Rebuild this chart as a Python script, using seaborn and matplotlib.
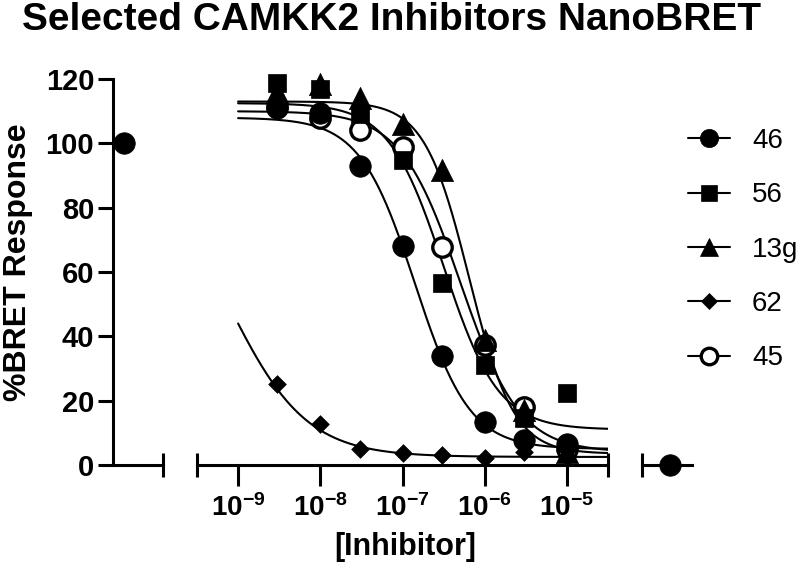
"""Selected CAMKK2 inhibitors NanoBRET dose-response plot."""

import matplotlib

matplotlib.use("Agg")
import matplotlib.pyplot as plt
import numpy as np
import seaborn as sns
from matplotlib.lines import Line2D

# --- data --------------------------------------------------------------
compounds = ["46", "56", "13g", "62", "45"]
concentrations = [3e-9, 1e-8, 3e-8, 1e-7, 3e-7, 1e-6, 3e-6, 1e-5]
response_46 = [111, 109.5, 93, 68, 34, 13.4, 7.8, 6.5]
response_56 = [118.7, 117, 109, 94.8, 56.6, 31, 14.6, 22.4]
response_13g = [116, 118.5, 114, 106, 91.7, 39, 17, 4]
response_62 = [25.2, 12.7, 5, 3.7, 3.1, 2.2, 3.9, 2.6]
response_45 = [111.3, 108, 104, 99, 67.8, 37.3, 18, 5]
control_no_inhibitor = 100
control_full_inhibition = 0

# four-parameter logistic fits (top, bottom, logIC50, hill slope)
fit_top = [108, 112.5, 113, 100, 110]
fit_bottom = [5, 11, 3.5, 2.5, 4]
fit_log_ic50 = [-6.85, -6.5, -6.19, -9.145, -6.3]
fit_hill = [1.3, 1.3, 1.6, 0.9, 1.2]
curve_log_range = (-9, -4.5)

x_ticks = [1e-9, 1e-8, 1e-7, 1e-6, 1e-5]
x_tick_labels = [r"$\mathbf{10^{-9}}$", r"$\mathbf{10^{-8}}$", r"$\mathbf{10^{-7}}$",
                 r"$\mathbf{10^{-6}}$", r"$\mathbf{10^{-5}}$"]
y_ticks = [0, 20, 40, 60, 80, 100, 120]

responses = [response_46, response_56, response_13g, response_62, response_45]
markers = ["o", "s", "^", "D", "o"]
marker_sizes = [15.5, 13.5, 16, 9, 14]
face_colors = ["black", "black", "black", "black", "white"]
edge_widths = [0.5, 0.5, 0.5, 0.5, 2.4]
draw_order = [4, 3, 2, 1, 0]

# --- style -------------------------------------------------------------
sns.set_theme(style="ticks")
plt.rcParams["font.family"] = ["Liberation Sans", "DejaVu Sans"]
plt.rcParams["mathtext.fontset"] = "custom"
plt.rcParams["mathtext.rm"] = "Liberation Sans"
plt.rcParams["mathtext.bf"] = "Liberation Sans:bold"
plt.rcParams["axes.linewidth"] = 2.2
for key in ("text.color", "axes.labelcolor", "axes.edgecolor", "xtick.color", "ytick.color"):
    plt.rcParams[key] = "black"

W, H = 804, 574
fig = plt.figure(figsize=(W / 100, H / 100), dpi=100)
bottom, height = (H - 465) / H, 386 / H
ax_left = fig.add_axes([113 / W, bottom, 50 / W, height])
ax_mid = fig.add_axes([197 / W, bottom, 411 / W, height])
ax_right = fig.add_axes([642 / W, bottom, 50 / W, height])

curve_x = np.logspace(curve_log_range[0], curve_log_range[1], 300)
for z, i in enumerate(draw_order):
    top, bot, logic, hill = fit_top[i], fit_bottom[i], fit_log_ic50[i], fit_hill[i]
    curve_y = bot + (top - bot) / (1 + 10 ** ((np.log10(curve_x) - logic) * hill))
    sns.lineplot(x=curve_x, y=curve_y, color="black", linewidth=1.5, ax=ax_mid,
                 zorder=2, legend=False)

for z, i in enumerate(draw_order):
    kw = dict(marker=markers[i], s=marker_sizes[i] ** 2, color=face_colors[i],
              edgecolor="black", linewidth=edge_widths[i], zorder=3 + z,
              clip_on=False, legend=False)
    sns.scatterplot(x=concentrations, y=responses[i], ax=ax_mid, **kw)

# controls: all series coincide here, only the top-most marker shows
kw = dict(marker=markers[0], s=marker_sizes[0] ** 2, color=face_colors[0],
          edgecolor="black", linewidth=edge_widths[0], zorder=10, clip_on=False,
          legend=False)
sns.scatterplot(x=[0], y=[control_no_inhibitor], ax=ax_left, **kw)
sns.scatterplot(x=[0], y=[control_full_inhibition], ax=ax_right, **kw)

for ax in (ax_left, ax_mid, ax_right):
    ax.set_ylim(0, 120)
    ax.spines["top"].set_visible(False)
    ax.spines["right"].set_visible(False)
    ax.set_xlabel("")
    ax.set_ylabel("")
    ax.tick_params(which="both", width=2.2, color="black")
    ax.tick_params(which="minor", direction="inout", length=17)
    ax.tick_params(axis="x", which="major", length=15, pad=6)

for ax in (ax_mid, ax_right):
    ax.spines["left"].set_visible(False)
    ax.set_yticks([])

# left segment: no-inhibitor control
ax_left.set_xlim(-0.28, 1.0)
ax_left.set_xticks([])
ax_left.set_xticks([1.0], minor=True)
ax_left.set_yticks(y_ticks)
ax_left.set_yticklabels([str(v) for v in y_ticks], fontsize=21, fontweight="bold")
ax_left.tick_params(axis="y", length=10.5, pad=3)

# middle segment: log concentration
ax_mid.set_xscale("log")
ax_mid.set_xlim(10 ** -9.5, 10 ** -4.5)
ax_mid.set_xticks(x_ticks)
ax_mid.set_xticklabels(x_tick_labels, fontsize=20)
ax_mid.set_xticks([10 ** -9.5, 10 ** -4.5], minor=True)
ax_mid.set_xticklabels(["", ""], minor=True)

# right segment: full-inhibition control
ax_right.set_xlim(-1.0, 0.8)
ax_right.set_xticks([])
ax_right.set_xticks([-1.0], minor=True)

fig.text(392 / W, 1 - 20 / H, "Selected CAMKK2 Inhibitors NanoBRET", ha="center",
         va="center", fontsize=28, fontweight="bold")
fig.text(18 / W, 1 - 262 / H, "%BRET Response", ha="center", va="center",
         rotation=90, fontsize=23, fontweight="bold")
fig.text(405 / W, 1 - 547 / H, "[Inhibitor]", ha="center", va="center",
         fontsize=22, fontweight="bold")

handles = [Line2D([0], [0], color="black", linewidth=1.5, marker=markers[i],
                  markersize=marker_sizes[i] * 0.85, markerfacecolor=face_colors[i],
                  markeredgecolor="black", markeredgewidth=edge_widths[i])
           for i in range(len(compounds))]
fig.legend(handles, compounds, loc="upper left", bbox_to_anchor=(688 / W, 1 - 128 / H),
           frameon=False, fontsize=20, handlelength=1.5, handletextpad=0.8,
           labelspacing=1.02, borderpad=0, borderaxespad=0)

fig.savefig("out.png", dpi=100)
